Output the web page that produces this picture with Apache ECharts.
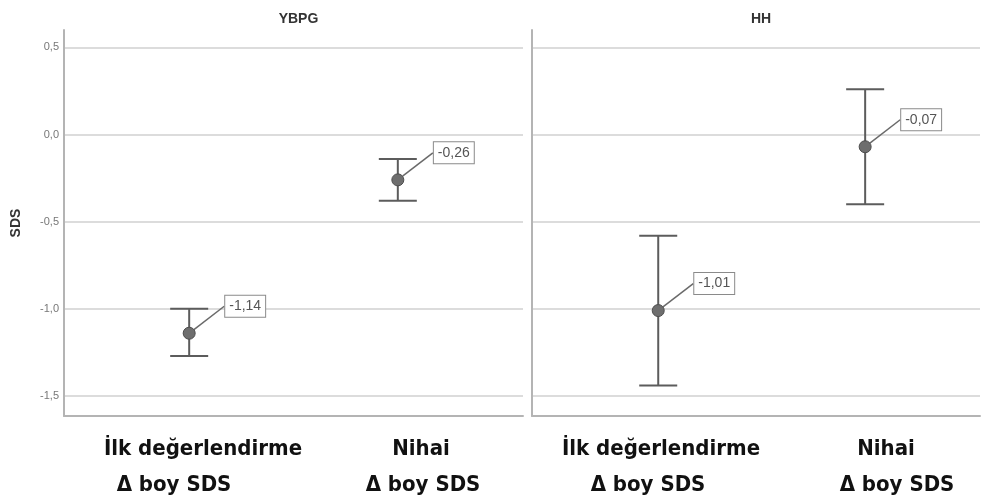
<!DOCTYPE html>
<html>
<head>
<meta charset="utf-8">
<script src="https://cdn.jsdelivr.net/npm/echarts@6/dist/echarts.min.js"></script>
<style>html,body{margin:0;padding:0;background:#fff;}#c{width:981px;height:504px;}</style>
</head>
<body>
<div id="c"></div>
<script>
// ---- data ----
const panels = ['YBPG', 'HH'];
const categories = ['İlk değerlendirme', 'Nihai'];
const subLabel = 'Δ boy SDS';
const yTicks = [-1.5, -1.0, -0.5, 0.0, 0.5];
const ybpgMean = [-1.14, -0.26];
const ybpgLow  = [-1.27, -0.38];
const ybpgHigh = [-1.00, -0.14];
const hhMean = [-1.01, -0.07];
const hhLow  = [-1.44, -0.40];
const hhHigh = [-0.58, 0.26];
const yName = 'SDS';

const fmt = v => v.toFixed(1).replace('.', ',');
const fmt2 = v => v.toFixed(2).replace('.', ',');

const chart = echarts.init(document.getElementById('c'), null, {renderer: 'canvas'});

const grids = [
  {left: 64, top: 30, width: 459, height: 386},
  {left: 532, top: 30, width: 448, height: 386}
];
const xRanges = [[-0.6, 1.6], [-0.61, 1.555]];

function yAxis(i) {
  return {
    type: 'value', gridIndex: i, min: -1.615, max: 0.6,
    name: i === 0 ? yName : '', nameLocation: 'middle', nameRotate: 90, nameGap: 41,
    nameTextStyle: {fontFamily: 'Liberation Sans, Arial', fontWeight: 'bold', fontSize: 14, color: '#333'},
    axisLine: {show: true, onZero: false, lineStyle: {color: '#b4b4b4', width: 2}},
    axisTick: {show: false, customValues: yTicks},
    axisLabel: {show: i === 0, customValues: yTicks, formatter: v => fmt(v), fontSize: 11, color: '#777', margin: 5, fontFamily: 'Liberation Sans, Arial'},
    splitLine: {show: true, lineStyle: {color: '#dcdcdc', width: 2}}
  };
}
function xAxis(i) {
  return {
    type: 'value', gridIndex: i, min: xRanges[i][0], max: xRanges[i][1],
    axisLine: {show: true, onZero: false, lineStyle: {color: '#b4b4b4', width: 2}},
    axisTick: {show: false}, axisLabel: {show: false}, splitLine: {show: false}
  };
}

const means = [ybpgMean, hhMean], lows = [ybpgLow, hhLow], highs = [ybpgHigh, hhHigh];
const series = [];
for (let p = 0; p < 2; p++) {
  const errData = categories.map((c, k) => [k, lows[p][k], highs[p][k]]);
  series.push({
    type: 'custom', xAxisIndex: p, yAxisIndex: p, z: 2,
    data: errData,
    renderItem: function (params, api) {
      const x = api.value(0);
      const lo = api.coord([x, api.value(1)]);
      const hi = api.coord([x, api.value(2)]);
      const hw = 19;
      const st = {stroke: '#5c5c5c', lineWidth: 2};
      return {type: 'group', children: [
        {type: 'line', shape: {x1: lo[0], y1: lo[1], x2: hi[0], y2: hi[1]}, style: st},
        {type: 'line', shape: {x1: lo[0]-hw, y1: lo[1], x2: lo[0]+hw, y2: lo[1]}, style: st},
        {type: 'line', shape: {x1: hi[0]-hw, y1: hi[1], x2: hi[0]+hw, y2: hi[1]}, style: st}
      ]};
    }
  });
  series.push({
    type: 'scatter', xAxisIndex: p, yAxisIndex: p, z: 5,
    symbol: 'circle', symbolSize: 12,
    itemStyle: {color: '#6e6e6e', borderColor: '#4d4d4d', borderWidth: 1, opacity: 1},
    data: categories.map((c, k) => [k, means[p][k]]),
    label: {
      show: true, position: 'inside', formatter: d => fmt2(d.value[1]),
      fontFamily: 'Liberation Sans, Arial', fontSize: 14, color: '#555',
      backgroundColor: '#fff', borderColor: '#8a8a8a', borderWidth: 1, padding: [4, 4, 3, 4]
    },
    labelLayout: {dx: 56, dy: -27},
    labelLine: {show: true, lineStyle: {color: '#6a6a6a', width: 1.5}},
    emphasis: {disabled: true}
  });
}

// bottom category labels (text positions only)
const lbl1X = [[203, 421], [661, 886]];
const lbl2X = [[174, 423], [648, 897]];
const textFont = {fontFamily: "'DejaVu Sans Condensed', 'DejaVu Sans'", fontWeight: 'bold', fontSize: 22, fill: '#111'};
const graphic = [];
for (let p = 0; p < 2; p++) {
  categories.forEach((c, k) => {
    graphic.push({type: 'text', x: lbl1X[p][k], y: 449, style: Object.assign({text: c, textAlign: 'center', textVerticalAlign: 'middle'}, textFont)});
    graphic.push({type: 'text', x: lbl2X[p][k], y: 485, style: Object.assign({text: subLabel, textAlign: 'center', textVerticalAlign: 'middle'}, textFont)});
  });
}

chart.setOption({
  animation: false,
  backgroundColor: '#fff',
  title: panels.map((t, i) => ({
    text: t, left: grids[i].left + grids[i].width / 2, top: 7, textAlign: 'center',
    textStyle: {fontFamily: 'Liberation Sans, Arial', fontWeight: 'bold', fontSize: 14, color: '#333'}
  })),
  grid: grids,
  xAxis: [xAxis(0), xAxis(1)],
  yAxis: [yAxis(0), yAxis(1)],
  series: series,
  graphic: graphic
});
</script>
</body>
</html>
